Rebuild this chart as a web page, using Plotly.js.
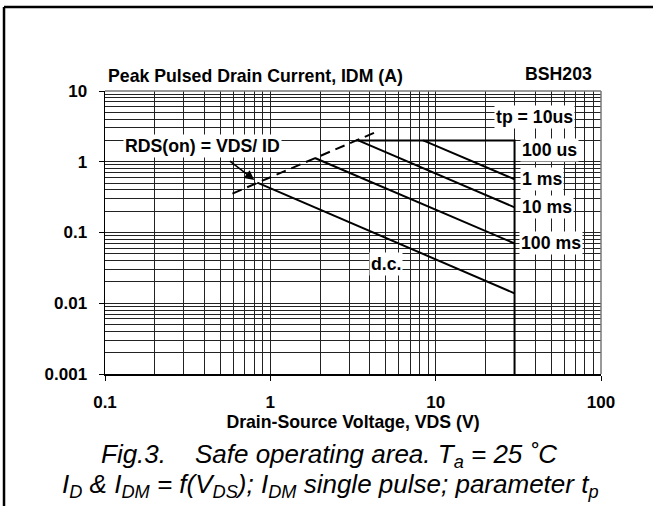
<!DOCTYPE html>
<html>
<head>
<meta charset="utf-8">
<script src="https://cdn.plot.ly/plotly-3.0.1.min.js"></script>
<style>html,body{margin:0;padding:0;background:#fff;}#chart{width:653px;height:506px;}</style>
</head>
<body>
<div id="chart"></div>
<script>
// ---- data ----
const vds_10us = [3.3, 30, 30];
const id_10us  = [2, 2, 0.001];
const vds_100us = [8.4, 30];
const id_100us  = [2, 0.565];
const vds_1ms = [3.4, 30];
const id_1ms  = [2, 0.227];
const vds_10ms = [1.86, 30];
const id_10ms  = [1.13, 0.07];
const vds_dc = [0.834, 30];
const id_dc  = [0.508, 0.0138];
const vds_rds = [0.59, 4.3];
const id_rds  = [0.355, 2.6];

const xTickVals = [0.1, 1, 10, 100];
const xTickText = ['0.1', '1', '10', '100'];
const yTickVals = [0.001, 0.01, 0.1, 1, 10];
const yTickText = ['0.001', '0.01', '0.1', '1', '10'];

const FONT = 'Liberation Sans, Arial, Helvetica, sans-serif';
const solid = {color: '#000', width: 2};

function line(x, y, l) { return {type: 'scatter', mode: 'lines', x: x, y: y, line: l, hoverinfo: 'skip'}; }

const data = [
  line(vds_10us, id_10us, solid),
  line(vds_100us, id_100us, solid),
  line(vds_1ms, id_1ms, solid),
  line(vds_10ms, id_10ms, solid),
  line(vds_dc, id_dc, solid),
  line(vds_rds, id_rds, {color: '#000', width: 2, dash: '10px,6px'})
];

const tickBold = {family: FONT, size: 17, color: '#000', weight: 'bold'};
const bold = {family: FONT, size: 17.7, color: '#000', weight: 'bold'};
function lab(text, x, y, xanchor) {
  return {text: text, x: x, y: y, xref: 'x', yref: 'y', showarrow: false, xanchor: xanchor || 'center', yanchor: 'middle',
          font: bold, bgcolor: '#fff', borderpad: 1};
}

const capFont = {family: FONT, size: 26, color: '#000', style: 'italic'};
const annotations = [
  lab('tp = 10us', 1.5976, 0.6296),
  lab('100 us', 1.689, 0.165),
  lab('1 ms', 1.6435, -0.2437),
  lab('10 ms', 1.671, -0.638),
  lab('100 ms', 1.695, -1.155),
  lab('d.c.', 0.700, -1.441),
  lab('RDS(on) = VDS/ ID', -0.408, 0.221),
  {text: '', x: -0.0967, y: -0.258, xref: 'x', yref: 'y', showarrow: true, ax: -26, ay: -20,
   arrowhead: 2, arrowsize: 1.3, arrowwidth: 1.5, arrowcolor: '#000'},
  {text: 'BSH203', x: 0.915, y: 1.060, xref: 'paper', yref: 'paper', showarrow: false,
   xanchor: 'center', yanchor: 'middle', font: bold},
  {text: 'Fig.3.&nbsp;&nbsp;&nbsp; Safe operating area. T<sub>a</sub> = 25 ˚C', x: 0.4516, y: -0.2865,
   xref: 'paper', yref: 'paper', showarrow: false, xanchor: 'center', yanchor: 'middle', font: capFont},
  {text: 'I<sub>D</sub> &amp; I<sub>DM</sub> = f(V<sub>DS</sub>); I<sub>DM</sub> single pulse; parameter t<sub>p</sub>',
   x: 0.4556, y: -0.395, xref: 'paper', yref: 'paper', showarrow: false, xanchor: 'center', yanchor: 'middle', font: capFont}
];

const shapes = [
  {type: 'line', xref: 'paper', yref: 'paper', x0: 0, x1: 1, y0: 1, y1: 1, line: {color: '#777', width: 1.5}},
  {type: 'line', xref: 'paper', yref: 'paper', x0: 1, x1: 1, y0: 0, y1: 1, line: {color: '#777', width: 1.5}},
  {type: 'line', xref: 'paper', yref: 'paper', x0: -0.2036, x1: 1.11, y0: 1.2968, y1: 1.2968, line: {color: '#000', width: 2.5}},
  {type: 'line', xref: 'paper', yref: 'paper', x0: -0.2036, x1: -0.2036, y0: 1.2968, y1: -0.47, line: {color: '#000', width: 2.5}}
];

const grid = '#222';
const layout = {
  width: 653, height: 506,
  margin: {l: 105, r: 52, t: 91, b: 132, pad: 0},
  paper_bgcolor: '#fff', plot_bgcolor: '#fff',
  showlegend: false,
  font: {family: FONT, color: '#000'},
  title: {text: 'Peak Pulsed Drain Current, IDM (A)', font: bold,
          x: 108 / 653, xref: 'container', xanchor: 'left', y: 1 - 76 / 506, yref: 'container', yanchor: 'middle'},
  xaxis: {
    type: 'log', range: [-1, 2], tickmode: 'array', tickvals: xTickVals, ticktext: xTickText,
    showgrid: true, gridcolor: grid, gridwidth: 1,
    minor: {dtick: 'D1', showgrid: true, gridcolor: grid, gridwidth: 1, ticks: ''},
    showline: true, linecolor: '#000', linewidth: 1.5, ticks: 'outside', ticklen: 5, tickcolor: '#000', tickwidth: 1,
    tickfont: tickBold, ticklabelstandoff: 7, zeroline: false,
    title: {text: 'Drain-Source Voltage, VDS (V)', font: bold, standoff: 2}
  },
  yaxis: {
    type: 'log', range: [-3, 1], tickmode: 'array', tickvals: yTickVals, ticktext: yTickText,
    showgrid: true, gridcolor: grid, gridwidth: 1,
    minor: {dtick: 'D1', showgrid: true, gridcolor: grid, gridwidth: 1, ticks: ''},
    showline: true, linecolor: '#000', linewidth: 1.5, ticks: 'outside', ticklen: 5, tickcolor: '#000', tickwidth: 1,
    tickfont: tickBold, ticklabelstandoff: 8, zeroline: false
  },
  annotations: annotations,
  shapes: shapes
};

Plotly.newPlot('chart', data, layout, {staticPlot: true, displayModeBar: false});
</script>
</body>
</html>
